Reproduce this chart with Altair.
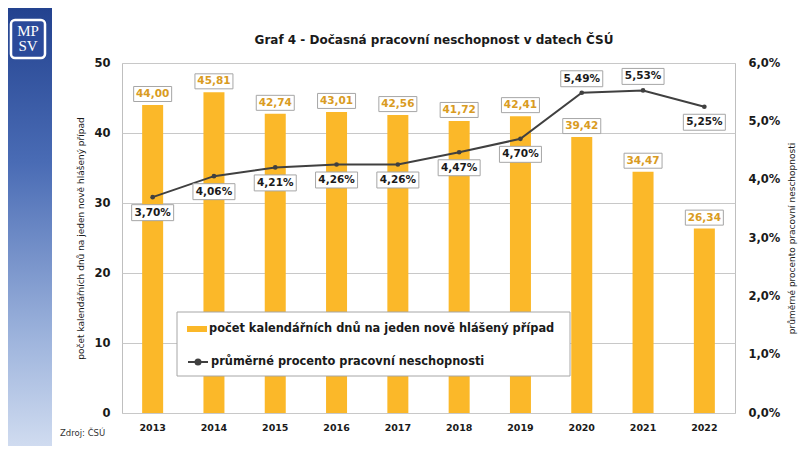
import altair as alt
import pandas as pd

# ---- data ----
years = ["2013", "2014", "2015", "2016", "2017", "2018", "2019", "2020", "2021", "2022"]
days = [44.00, 45.81, 42.74, 43.01, 42.56, 41.72, 42.41, 39.42, 34.47, 26.34]
pct = [3.70, 4.06, 4.21, 4.26, 4.26, 4.47, 4.70, 5.49, 5.53, 5.25]
pct_label_above = [False, False, False, False, False, False, False, True, True, False]

bar_name = "počet kalendářních dnů na jeden nově hlášený případ"
line_name = "průměrné procento pracovní  neschopnosti"
right_title = "průměrné procento pracovní neschopnosti"
chart_title = "Graf 4 - Dočasná pracovní neschopnost v datech ČSÚ"
source_text = "Zdroj: ČSÚ"

df = pd.DataFrame({
    "year": years,
    "days": days,
    "pct": [p / 100 for p in pct],
    "days_label": [f"{d:.2f}".replace(".", ",") for d in days],
    "pct_label": [f"{p:.2f}%".replace(".", ",") for p in pct],
    "above": pct_label_above,
    "s1": bar_name,
    "s2": line_name,
})

FONT = "DejaVu Sans"
DARK = "#1a1a1a"
BAR = "#FBB829"
GOLD = "#D99B22"
LINE = "#404040"
BOX = "#A6A6A6"

x = alt.X("year:N", scale=alt.Scale(paddingInner=0, paddingOuter=0),
          axis=alt.Axis(title=None, labelAngle=0, ticks=False, domain=False,
                        labelFont=FONT, labelFontWeight="bold", labelFontSize=9.5,
                        labelColor=DARK, labelPadding=9))

y_left = alt.Y("days:Q", scale=alt.Scale(domain=[0, 50]),
               axis=alt.Axis(values=[0, 10, 20, 30, 40, 50], grid=True, gridColor="#C8C8C8",
                             domain=False, ticks=False, labelFont=FONT, labelFontWeight="bold",
                             labelFontSize=11.5, labelColor=DARK, labelPadding=12,
                             title=bar_name, titleFont=FONT, titleFontWeight="normal",
                             titleFontSize=9, titleColor=DARK, titlePadding=8))

y_right = alt.Y("pct:Q", scale=alt.Scale(domain=[0, 0.06]),
                axis=alt.Axis(orient="right", values=[0, 0.01, 0.02, 0.03, 0.04, 0.05, 0.06],
                              labelExpr="replace(format(datum.value, '.1%'), '.', ',')",
                              grid=False, domain=False, ticks=False, labelFont=FONT,
                              labelFontWeight="bold", labelFontSize=11.5, labelColor=DARK,
                              labelPadding=13, title=right_title, titleFont=FONT,
                              titleFontWeight="normal", titleFontSize=9, titleColor=DARK,
                              titleAngle=270, titlePadding=17))

base = alt.Chart(df)

box38 = "M-1,-0.395L1,-0.395L1,0.395L-1,0.395Z"
box42 = "M-1,-0.38L1,-0.38L1,0.38L-1,0.38Z"

bars = base.mark_bar(size=21).encode(
    x=x, y=y_left,
    color=alt.Color("s1:N", scale=alt.Scale(range=[BAR]),
                    legend=alt.Legend(orient="none", legendX=65, legendY=256, title=None,
                                      symbolType="M-1,-0.3L1,-0.3L1,0.3L-1,0.3Z", symbolSize=400,
                                      symbolStrokeWidth=0, labelFont=FONT, labelFontSize=11.4,
                                      labelFontWeight="bold", labelColor=DARK, labelLimit=0,
                                      padding=0, labelOffset=2)),
)
bar_boxes = base.mark_point(shape=box38, size=1444, filled=True, fill="white", stroke=BOX,
                            strokeWidth=1, opacity=1, yOffset=-11).encode(x=x, y=y_left)
bar_text = base.mark_text(font=FONT, fontSize=10.5, fontWeight="bold", color=GOLD,
                          baseline="middle", yOffset=-11).encode(x=x, y=y_left, text="days_label:N")
left = alt.layer(bars, bar_boxes, bar_text)

line = base.mark_line(strokeWidth=2).encode(
    x=x, y=y_right,
    stroke=alt.Stroke("s2:N", scale=alt.Scale(range=[LINE]),
                      legend=alt.Legend(orient="none", legendX=65, legendY=288, title=None,
                                        symbolType="M-1,0L1,0M-0.25,0A0.25,0.25,0,1,1,0.25,0A0.25,0.25,0,1,1,-0.25,0",
                                        symbolSize=400, symbolStrokeWidth=2,
                                        symbolFillColor=LINE, labelFont=FONT, labelFontSize=11.4,
                                        labelFontWeight="bold", labelColor=DARK, labelLimit=0,
                                        padding=0, labelOffset=2)),
)
pts = base.mark_circle(size=22, color=LINE, opacity=1).encode(x=x, y=y_right)
above = base.transform_filter("datum.above")
below = base.transform_filter("!datum.above")
pa_box = above.mark_point(shape=box42, size=1764, filled=True, fill="white", stroke=BOX,
                          strokeWidth=1, opacity=1, yOffset=-14).encode(x=x, y=y_right)
pa_txt = above.mark_text(font=FONT, fontSize=10.5, fontWeight="bold", color=DARK,
                         baseline="middle", yOffset=-14).encode(x=x, y=y_right, text="pct_label:N")
pb_box = below.mark_point(shape=box42, size=1764, filled=True, fill="white", stroke=BOX,
                          strokeWidth=1, opacity=1, yOffset=15.5).encode(x=x, y=y_right)
pb_txt = below.mark_text(font=FONT, fontSize=10.5, fontWeight="bold", color=DARK,
                         baseline="middle", yOffset=15.5).encode(x=x, y=y_right, text="pct_label:N")
right = alt.layer(line, pts, pa_box, pa_txt, pb_box, pb_txt)

one = alt.Data(values=[{"a": 1}])
frame = alt.Chart(one).mark_rect(fill="white", stroke=BOX, strokeWidth=1).encode(
    x=alt.value(55), x2=alt.value(448), y=alt.value(249), y2=alt.value(313))

strip = alt.Chart(one).mark_rect(
    color=alt.LinearGradient(gradient="linear", x1=0, x2=0, y1=0, y2=1,
                             stops=[alt.GradientStop(color="#23428f", offset=0),
                                    alt.GradientStop(color="#4a6cb5", offset=0.35),
                                    alt.GradientStop(color="#9fb5dd", offset=0.75),
                                    alt.GradientStop(color="#d3def1", offset=1)])
).encode(x=alt.value(-114), x2=alt.value(-70), y=alt.value(-55), y2=alt.value(390))
logo = alt.Chart(one).mark_rect(fill="#2b4a9a", stroke="white", strokeWidth=2.5,
                                cornerRadius=4).encode(
    x=alt.value(-111), x2=alt.value(-77), y=alt.value(-43), y2=alt.value(-5))
logo_mp = alt.Chart(one).mark_text(font="Liberation Serif", fontSize=15, color="white",
                                   baseline="middle").encode(
    x=alt.value(-94), y=alt.value(-32), text=alt.value("MP"))
logo_sv = alt.Chart(one).mark_text(font="Liberation Serif", fontSize=15, color="white",
                                   baseline="middle").encode(
    x=alt.value(-94), y=alt.value(-17), text=alt.value("SV"))
title = alt.Chart(one).mark_text(font=FONT, fontSize=12, fontWeight="bold", color=DARK,
                                 baseline="middle").encode(
    x=alt.value(312), y=alt.value(-23), text=alt.value(chart_title))
source = alt.Chart(one).mark_text(font=FONT, fontSize=8.5, color="#333333", align="left",
                                  baseline="middle").encode(
    x=alt.value(-62), y=alt.value(370), text=alt.value(source_text))

chart = alt.layer(left, frame, right, strip, logo, logo_mp, logo_sv, title, source).resolve_scale(
    y="independent"
).properties(
    width=613, height=350,
    autosize=alt.AutoSizeParams(type="none"),
    padding={"left": 114, "top": 55, "right": 64, "bottom": 33},
).configure_view(stroke="#BFBFBF", strokeWidth=1)

chart.save("out.html", embed_options={"renderer": "svg", "actions": False})
